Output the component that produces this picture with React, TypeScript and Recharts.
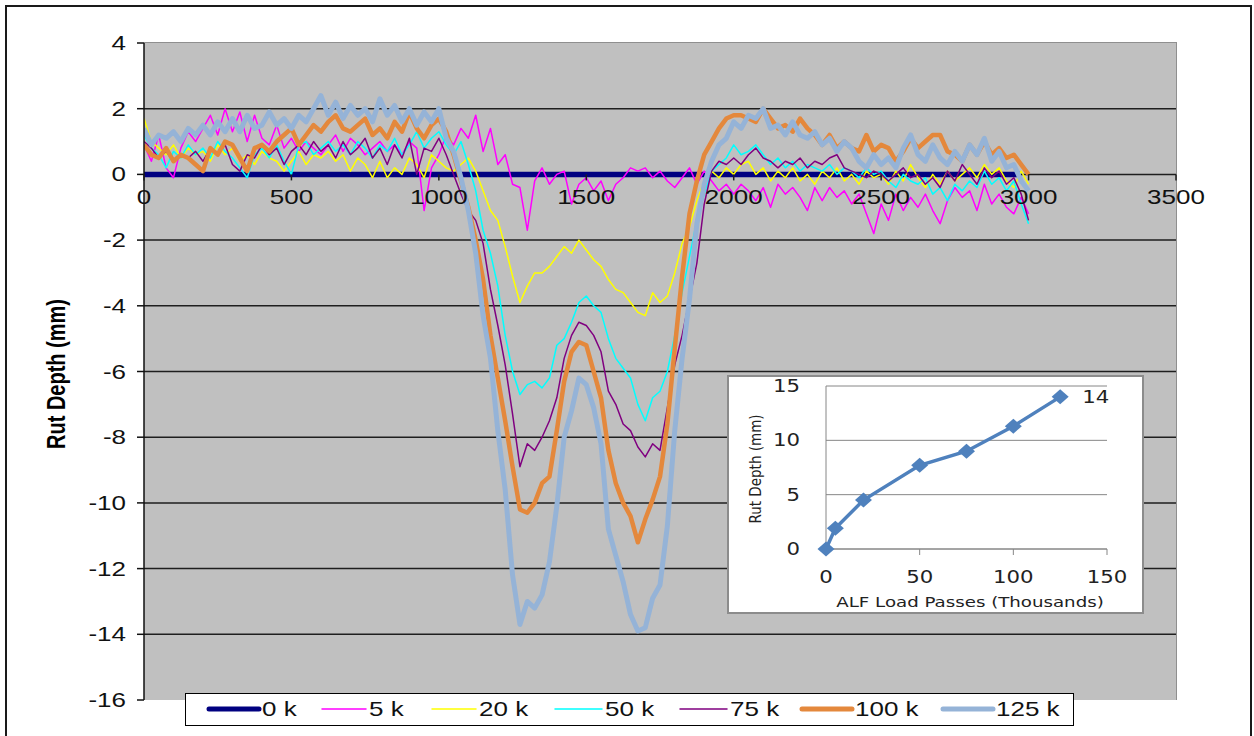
import React from "react";
import { LineChart, Line, XAxis, YAxis, CartesianGrid, LabelList } from "recharts";

// station along the transverse profile (mm), same for every pass count
const positions = [
  0, 25, 50, 75, 100, 125, 150, 175, 200, 225,
  250, 275, 300, 325, 350, 375, 400, 425, 450, 475,
  500, 525, 550, 575, 600, 625, 650, 675, 700, 725,
  750, 775, 800, 825, 850, 875, 900, 925, 950, 975,
  1000, 1025, 1050, 1075, 1100, 1125, 1150, 1175, 1200, 1225,
  1250, 1275, 1300, 1325, 1350, 1375, 1400, 1425, 1450, 1475,
  1500, 1525, 1550, 1575, 1600, 1625, 1650, 1675, 1700, 1725,
  1750, 1775, 1800, 1825, 1850, 1875, 1900, 1925, 1950, 1975,
  2000, 2025, 2050, 2075, 2100, 2125, 2150, 2175, 2200, 2225,
  2250, 2275, 2300, 2325, 2350, 2375, 2400, 2425, 2450, 2475,
  2500, 2525, 2550, 2575, 2600, 2625, 2650, 2675, 2700, 2725,
  2750, 2775, 2800, 2825, 2850, 2875, 2900, 2925, 2950, 2975,
  3000,
];

// 0 k is the reference (flat) profile
const base0kX = [0, 2975];
const base0kY = [0, 0];

const rut5k = [
  0.9, 0.4, 1.2, 0.2, -0.1, 0.8, 1.3, 1.0, 1.4, 1.8,
  1.2, 2.0, 1.3, 1.9, 1.0, 1.8, 1.1, 0.9, 1.5, 0.8,
  1.1, 0.7, 1.0, 0.8, 0.6, 0.9, 1.2, 0.7, 1.1, 0.9,
  0.6, 0.8, 1.0, 0.7, 0.9, 0.6, 1.0, 0.8, -1.1, 0.2,
  0.6, 1.2, 0.9, 1.4, 1.1, 1.8, 0.7, 1.4, 0.3, 0.6,
  -0.3, -0.4, -1.7, -0.2, 0.2, -0.3, 0.0, 0.1, -0.9, -0.3,
  -0.1, -0.5, -0.2, -0.8, -0.3, -0.1, 0.2, 0.1, 0.2, -0.1,
  0.1, -0.2, -0.4, -0.1, 0.2, -0.3, 0.1, -0.2, -0.5, -0.3,
  -0.6, -0.3, -0.5, -0.8, -0.4, -1.0, -0.3, -0.6, -0.4, -0.7,
  -1.1, -0.4, -0.8, -0.4, -0.7, -0.5, -0.9, -0.6, -1.2, -1.8,
  -0.9, -1.4, -0.6, -1.1, -0.7, -1.0, -0.6, -1.1, -1.5, -0.8,
  -0.4, -0.7, -0.5, -1.1, -0.3, -0.9, -0.6, -1.0, -1.2, -0.7,
  -1.2,
];

const rut20k = [
  1.7, 1.0, 0.8, 0.6, 0.9, 0.5, 0.8, 0.6, 0.7, 0.4,
  0.9, 0.6, 0.8, 0.4, 0.6, 0.3, 0.7, 0.5, 0.4, 0.1,
  0.4, 0.7, 0.3, 0.6, 0.5, 0.7, 0.4, 0.6, 0.1, 0.5,
  0.3, -0.1, 0.4, -0.1, 0.2, 0.0, 0.5, 0.3, -0.1, 0.6,
  0.4, 0.2, 0.1, 0.3, 0.5, 0.1, -0.5, -1.1, -1.4, -2.2,
  -3.1, -3.9, -3.4, -3.0, -3.0, -2.8, -2.5, -2.2, -2.4, -2.0,
  -2.3, -2.6, -2.8, -3.2, -3.5, -3.6, -3.9, -4.2, -4.3, -3.6,
  -3.9, -3.7, -3.0, -2.1, -1.6, -0.8, -0.2, 0.1, -0.1, 0.2,
  0.0, 0.3, 0.4, 0.0, 0.2, -0.2, 0.1, -0.1, 0.2, -0.2,
  0.0, -0.3, 0.1, -0.1, 0.2, -0.2, 0.0, -0.3, 0.1, -0.1,
  0.0, -0.3, 0.1, -0.2, 0.3, -0.1, -0.4, 0.0, -0.3, 0.1,
  -0.2, 0.0, 0.2, -0.1, 0.3, 0.0, 0.2, -0.2, -0.4, 0.1,
  -0.3,
];

const rut50k = [
  1.2, 0.8, 0.6, 0.2, 0.7, 0.5, 0.9, 0.6, 0.8, 0.5,
  1.0, 0.7, 0.5, 0.2, -0.1, 0.6, 0.8, 0.5, 0.9, 0.4,
  0.0, 0.9, 1.0, 0.6, 0.8, 1.0, 0.7, 0.9, 0.6, 1.0,
  0.8, 0.5, 0.9, 0.7, 1.1, 0.6, 0.9, 1.3, 0.8, 1.1,
  1.3, 0.9, 0.6, 1.0, 0.3, -0.5, -1.7, -2.4, -3.4, -4.9,
  -6.0, -6.7, -6.4, -6.3, -6.5, -6.2, -5.2, -5.0, -4.5, -3.9,
  -3.7, -4.0, -4.2, -5.0, -5.6, -5.9, -6.2, -7.0, -7.5, -6.8,
  -6.6, -6.0, -4.9, -3.6, -2.5, -1.4, -0.6, 0.1, 0.3, 0.5,
  0.9, 0.6, 0.7, 0.9, 0.6, 0.3, 0.5, 0.2, 0.4, 0.1,
  0.3, 0.2, 0.1, 0.3, 0.0, 0.2, 0.1, -0.1, 0.2, 0.0,
  0.1, -0.2, -0.4, 0.0, -0.2, -0.3, -0.1, -0.6, -0.4, -0.8,
  -0.3, -0.5, -0.2, -0.4, 0.1, -0.3, -0.1, -0.5, -0.2, -0.9,
  -1.5,
];

const rut75k = [
  1.0, 0.8, 0.5, 0.7, 0.4, 0.6, 0.5, 0.7, 0.4, 0.8,
  0.6, 0.9, 0.3, 0.1, 0.6, 0.5, 0.9, 0.6, 0.8, 0.3,
  0.7, 0.9, 0.6, 1.0, 0.7, 0.9, 0.5, 1.0, 0.6, 0.8,
  1.1, 0.5, 0.8, 0.3, 0.9, 0.5, 1.1, 0.0, 0.8, 0.7,
  1.1, 0.6, 0.0, -0.6, -1.1, -1.4, -2.1, -3.5, -4.6, -5.8,
  -7.3, -8.9, -8.2, -8.4, -8.0, -7.5, -6.8, -5.6, -4.9, -4.5,
  -4.6, -4.9, -5.4, -6.6, -7.0, -7.6, -7.8, -8.3, -8.6, -8.2,
  -8.4, -7.1, -5.8, -4.9, -3.8, -2.7, -0.9, 0.1, 0.4, 0.3,
  0.5, 0.3, 0.6, 0.8, 0.5, 0.4, 0.2, 0.4, 0.3, 0.5,
  0.2, 0.4, 0.3, 0.5, 0.6, 0.2, 0.1, 0.0, -0.1, 0.1,
  0.0, -0.2, 0.0, 0.2, -0.1, 0.0, -0.3, -0.1, -0.4, 0.1,
  -0.2, 0.3, 0.0, -0.3, 0.2, -0.1, 0.1, -0.3, -0.1, -0.6,
  -1.4,
];

const rut100k = [
  0.9, 0.6, 0.5, 0.8, 0.4, 0.6, 0.5, 0.3, 0.1, 0.8,
  0.6, 1.0, 0.9, 0.5, 0.1, 0.8, 0.9, 0.7, 1.0, 1.2,
  1.4, 0.9, 1.2, 1.5, 1.3, 1.6, 1.8, 1.4, 1.3, 1.5,
  1.7, 1.2, 1.4, 1.1, 1.6, 1.3, 1.9, 1.4, 1.1, 1.5,
  1.7, 1.3, 0.6, -0.2, -1.0, -2.0, -3.2, -4.9, -6.2, -7.5,
  -8.9, -10.2, -10.3, -10.0, -9.4, -9.2, -7.8, -6.3, -5.4, -5.1,
  -5.2, -6.0, -6.8, -8.4, -9.4, -10.0, -10.4, -11.2, -10.5, -9.9,
  -9.2, -7.6, -5.3, -3.1, -1.2, -0.2, 0.6, 1.0, 1.4, 1.7,
  1.8, 1.8, 1.7, 1.6, 2.0, 1.7, 1.4, 1.5, 1.3, 1.7,
  1.4, 1.2, 0.9, 1.2, 0.8, 1.0, 0.8, 0.7, 1.2, 0.7,
  0.9, 0.8, 0.4, 0.7, 1.1, 0.8, 1.0, 1.2, 1.2, 0.7,
  0.6, 0.4, 0.9, 0.6, 1.0, 0.6, 0.8, 0.5, 0.6, 0.3,
  0.0,
];

const rut125k = [
  1.4, 0.9, 1.2, 1.1, 1.3, 1.0, 1.4, 1.2, 1.5, 1.2,
  1.6, 1.3, 1.7, 1.3, 1.8, 1.4, 1.5, 1.9, 1.5, 1.7,
  1.4, 1.8, 1.6, 2.0, 2.4, 1.8, 2.2, 1.7, 2.1, 1.8,
  2.0, 1.6, 2.3, 1.8, 2.1, 1.6, 2.0, 1.5, 1.9, 1.6,
  2.0, 1.1, 0.7, -0.1, -1.1, -2.4, -4.3, -5.6, -7.8, -9.6,
  -12.2, -13.7, -13.0, -13.2, -12.8, -11.8, -10.1, -8.0, -7.2, -6.2,
  -6.4, -7.1, -8.2, -10.8, -11.6, -12.4, -13.4, -13.9, -13.8, -12.9,
  -12.5, -10.7, -7.8, -5.6, -3.8, -1.5, -0.3, 0.4, 0.9, 1.1,
  1.6, 1.4, 1.8, 1.7, 2.0, 1.4, 1.5, 1.2, 1.6, 1.2,
  1.1, 1.3, 0.9, 1.1, 0.7, 1.0, 0.8, 0.4, 0.2, 0.6,
  0.3, 0.5, 0.2, 0.8, 1.2, 0.6, 0.4, 0.9, 0.5, 0.3,
  0.7, 0.4, 0.9, 0.6, 1.1, 0.4, 0.7, 0.2, 0.3, -0.2,
  -0.5,
];

const seriesNames = ["0 k", "5 k", "20 k", "50 k", "75 k", "100 k", "125 k"];
const xTicks = [0, 500, 1000, 1500, 2000, 2500, 3000, 3500];
const yTicks = [-16, -14, -12, -10, -8, -6, -4, -2, 0, 2, 4];
const gridValues = [-14, -12, -10, -8, -6, -4, -2, 0, 2];

// inset: max rut depth vs load passes
const insetPasses = [0, 5, 20, 50, 75, 100, 125];
const insetRut = [0, 1.9, 4.5, 7.7, 9.0, 11.3, 14];
const insetXTicks = [0, 50, 100, 150];
const insetYTicks = [0, 5, 10, 15];

const seriesColors = ["#000080", "#FF00FF", "#FFFF00", "#00FFFF", "#800080", "#E4883C", "#95B3D7"];
const seriesWidths = [5.5, 1.5, 1.5, 1.5, 1.5, 4.5, 5];

const toPoints = (xs: number[], ys: number[]) => xs.map((x, i) => ({ x, y: ys[i] }));

const seriesData = [
  toPoints(base0kX, base0kY),
  toPoints(positions, rut5k),
  toPoints(positions, rut20k),
  toPoints(positions, rut50k),
  toPoints(positions, rut75k),
  toPoints(positions, rut100k),
  toPoints(positions, rut125k),
];
const insetData = toPoints(insetPasses, insetRut);

// layout
const W = 1254;
const H = 736;
const PLOT_LEFT = 144;
const PLOT_TOP = 43;
const PLOT_RIGHT = 1176;
const PLOT_BOTTOM = 700;
const Y_MIN = -16;
const Y_MAX = 4;
const ZERO_PX = PLOT_TOP + ((Y_MAX - 0) / (Y_MAX - Y_MIN)) * (PLOT_BOTTOM - PLOT_TOP);
const STRETCH = 1.3;
const mainFont = "'Liberation Sans', Arial, sans-serif";
const insetFont = "'DejaVu Sans', Verdana, sans-serif";

const legendLeft = 185;
const legendSampleX = [23, 136, 246, 369, 494, 616, 757];
const legendSampleW = [50, 44, 44, 47, 47, 50, 50];

const INSET = { left: 727, top: 375, width: 417, height: 239 };
const INSET_PLOT_BOTTOM = 174;

const XTick = (props: any) => {
  const { x, payload } = props;
  return (
    <g>
      <line x1={x} x2={x} y1={ZERO_PX} y2={ZERO_PX + 6} stroke="#1e1e1e" strokeWidth={1.5} />
      <g transform={`translate(${x},${ZERO_PX + 30}) scale(${STRETCH},1)`}>
        <text x={0} y={0} textAnchor="middle" fontSize={20} fontFamily={mainFont} fill="#111">
          {payload.value}
        </text>
      </g>
    </g>
  );
};

const YTick = (props: any) => {
  const { y, payload } = props;
  return (
    <g transform={`translate(126,${y}) scale(${STRETCH},1)`}>
      <text x={0} y={0} dy={7} textAnchor="end" fontSize={20} fontFamily={mainFont} fill="#111">
        {payload.value}
      </text>
    </g>
  );
};

const MainYLabel = () => (
  <g transform={`translate(56,374) scale(${STRETCH},1) rotate(-90)`}>
    <text x={0} y={0} dy={7} textAnchor="middle" fontSize={20} fontWeight="bold" fontFamily={mainFont} fill="#000">
      Rut Depth (mm)
    </text>
  </g>
);

const InsetXTick = (props: any) => {
  const { x, payload } = props;
  return (
    <g transform={`translate(${x},${INSET_PLOT_BOTTOM + 28}) scale(1.25,1)`}>
      <text x={0} y={0} dy={6} textAnchor="middle" fontSize={17} fontFamily={insetFont} fill="#222">
        {payload.value}
      </text>
    </g>
  );
};

const InsetYTick = (props: any) => {
  const { y, payload } = props;
  return (
    <g transform={`translate(73,${y}) scale(1.25,1)`}>
      <text x={0} y={0} dy={6} textAnchor="end" fontSize={17} fontFamily={insetFont} fill="#222">
        {payload.value}
      </text>
    </g>
  );
};

const InsetXLabel = () => (
  <g transform={`translate(243,227) scale(1.3,1)`}>
    <text x={0} y={0} dy={5} textAnchor="middle" fontSize={14} fontFamily={insetFont} fill="#222">
      ALF Load Passes (Thousands)
    </text>
  </g>
);

const InsetYLabel = () => (
  <g transform={`translate(28,94) scale(1.2,1) rotate(-90)`}>
    <text x={0} y={0} dy={5} textAnchor="middle" fontSize={13.5} fontFamily={insetFont} fill="#222">
      Rut Depth (mm)
    </text>
  </g>
);

const Diamond = (props: any) => {
  const { cx, cy } = props;
  if (cx == null || cy == null) return null;
  return (
    <path
      d={`M${cx},${cy - 7.5} L${cx + 8.5},${cy} L${cx},${cy + 7.5} L${cx - 8.5},${cy} Z`}
      fill="#4F81BD"
    />
  );
};

const LastLabel = (props: any) => {
  const { x, y, value, index } = props;
  if (index !== insetRut.length - 1) return null;
  return (
    <g transform={`translate(${x + 22},${y}) scale(1.25,1)`}>
      <text x={0} y={0} dy={6} textAnchor="start" fontSize={17} fontFamily={insetFont} fill="#222">
        {value}
      </text>
    </g>
  );
};

const Legend = () => (
  <div
    style={{
      position: "absolute",
      left: legendLeft,
      top: 693,
      width: 889,
      height: 33,
      boxSizing: "border-box",
      background: "#fff",
      border: "1.5px solid #000",
    }}
  >
    <svg width={886} height={30} style={{ position: "absolute", left: 0, top: 0 }}>
      {seriesNames.map((name, i) => {
        const x0 = legendSampleX[i];
        const x1 = x0 + legendSampleW[i];
        return (
          <g key={name}>
            <line
              x1={x0}
              x2={x1}
              y1={15}
              y2={15}
              stroke={seriesColors[i]}
              strokeWidth={seriesWidths[i] > 2 ? 5 : 1.5}
              strokeLinecap="round"
            />
            <g transform={`translate(${x1 + 3},15) scale(${STRETCH},1)`}>
              <text x={0} y={0} dy={7} fontSize={20} fontFamily={mainFont} fill="#111">
                {name}
              </text>
            </g>
          </g>
        );
      })}
    </svg>
  </div>
);

const App = () => {
  return (
    <div
      style={{
        position: "absolute",
        left: 0,
        top: 0,
        width: W,
        height: H,
        overflow: "hidden",
        background: "#fff",
      }}
    >
      {/* outer frame */}
      <div
        style={{
          position: "absolute",
          left: 5,
          top: 5,
          width: 1247,
          height: 760,
          boxSizing: "border-box",
          border: "2px solid #1a1a1a",
        }}
      />

      {/* plot area background */}
      <div
        style={{
          position: "absolute",
          left: PLOT_LEFT,
          top: PLOT_TOP - 1,
          width: PLOT_RIGHT - PLOT_LEFT + 1,
          height: PLOT_BOTTOM - PLOT_TOP + 1,
          boxSizing: "border-box",
          background: "#C0C0C0",
          borderTop: "1px solid #8f8f8f",
          borderRight: "1.5px solid #8f8f8f",
        }}
      />

      <div style={{ position: "absolute", left: 0, top: 0 }}>
        <LineChart
          width={W}
          height={H}
          margin={{ top: PLOT_TOP, right: W - PLOT_RIGHT, bottom: 0, left: 0 }}
        >
          <CartesianGrid
            vertical={false}
            horizontalValues={gridValues}
            stroke="#1e1e1e"
            strokeWidth={1.5}
          />
          <XAxis
            type="number"
            dataKey="x"
            domain={[0, 3500]}
            ticks={xTicks}
            interval={0}
            height={H - PLOT_BOTTOM}
            axisLine={false}
            tickLine={false}
            tick={<XTick />}
            allowDataOverflow
          />
          <YAxis
            type="number"
            dataKey="y"
            domain={[Y_MIN, Y_MAX]}
            ticks={yTicks}
            interval={0}
            width={PLOT_LEFT}
            axisLine={{ stroke: "#111", strokeWidth: 1.5 }}
            tickLine={{ stroke: "#111", strokeWidth: 1.5 }}
            tickSize={7}
            tick={<YTick />}
            label={<MainYLabel />}
            allowDataOverflow
          />
          {seriesData.map((pts, i) => (
            <Line
              key={seriesNames[i]}
              data={pts}
              dataKey="y"
              name={seriesNames[i]}
              type="linear"
              stroke={seriesColors[i]}
              strokeWidth={seriesWidths[i]}
              strokeLinejoin="round"
              dot={false}
              activeDot={false}
              isAnimationActive={false}
            />
          ))}
        </LineChart>
      </div>

      <Legend />

      {/* inset chart */}
      <div
        style={{
          position: "absolute",
          left: INSET.left,
          top: INSET.top,
          width: INSET.width,
          height: INSET.height,
          background: "#fff",
          boxShadow: "inset 0 0 0 2px #8c8c8c",
        }}
      >
        <LineChart
          width={INSET.width}
          height={INSET.height}
          margin={{ top: 11, right: 37, bottom: 0, left: 0 }}
        >
          <CartesianGrid vertical={false} stroke="#868686" strokeWidth={1} />
          <XAxis
            type="number"
            dataKey="x"
            domain={[0, 150]}
            ticks={insetXTicks}
            interval={0}
            height={INSET.height - INSET_PLOT_BOTTOM}
            axisLine={{ stroke: "#868686" }}
            tickLine={{ stroke: "#868686" }}
            tickSize={6}
            tick={<InsetXTick />}
            label={<InsetXLabel />}
          />
          <YAxis
            type="number"
            dataKey="y"
            domain={[0, 15]}
            ticks={insetYTicks}
            interval={0}
            width={99}
            axisLine={{ stroke: "#868686" }}
            tickLine={false}
            tick={<InsetYTick />}
            label={<InsetYLabel />}
          />
          <Line
            data={insetData}
            dataKey="y"
            type="linear"
            stroke="#4F81BD"
            strokeWidth={3.5}
            dot={<Diamond />}
            activeDot={false}
            isAnimationActive={false}
          >
            <LabelList dataKey="y" content={<LastLabel />} />
          </Line>
        </LineChart>
      </div>
    </div>
  );
};

export default App;
